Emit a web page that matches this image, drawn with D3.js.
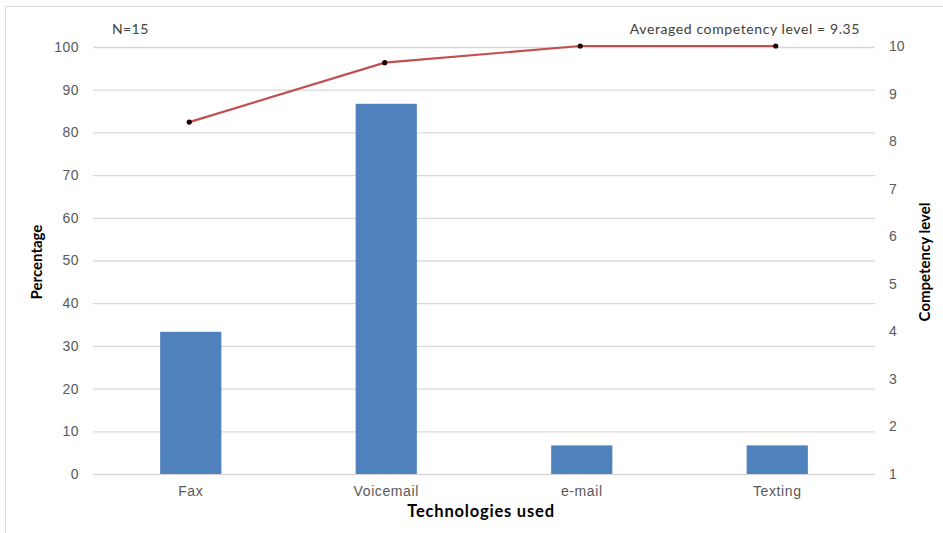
<!DOCTYPE html>
<html>
<head>
<meta charset="utf-8">
<script src="https://cdn.jsdelivr.net/npm/d3@7"></script>
<style>
  html, body { margin: 0; padding: 0; background: #fff; }
  svg { display: block; font-family: Lato, "Open Sans", sans-serif; }
</style>
</head>
<body>
<svg id="chart" width="943" height="533"></svg>
<script>
// Technologies used by respondents (N=15)
const categories = ["Fax", "Voicemail", "e-mail", "Texting"];
// Share of respondents using each technology (%)
const percentages = [33.3, 86.7, 6.7, 6.7];
// Average competency level per technology (1-10 scale)
const competency = [8.4, 9.65, 10, 10];
const leftTicks = [0, 10, 20, 30, 40, 50, 60, 70, 80, 90, 100];
const rightTicks = [1, 2, 3, 4, 5, 6, 7, 8, 9, 10];
const sampleNote = "N=15";
const averageNote = "Averaged competency level = 9.35";

const svg = d3.select("#chart");
const W = 943, H = 533;
const plot = { left: 93, right: 875, top: 47, bottom: 474 };

// outer chart frame (only top and left edges fall inside the view)
svg.append("path")
  .attr("d", `M5.5,${H} L5.5,6.5 L${W},6.5`)
  .attr("fill", "none")
  .attr("stroke", "#d9d9d9")
  .attr("stroke-width", 1);

const x = d3.scaleBand().domain(categories).range([plot.left, plot.right]).padding(0);
const yL = d3.scaleLinear().domain([0, 100]).range([plot.bottom, plot.top]);
const yR = d3.scaleLinear().domain([1, 10]).range([plot.bottom, plot.top - 1]);

const tickFont = 14;

// gridlines and left axis labels
const leftAxis = d3.axisLeft(yL).tickValues(leftTicks).tickSize(-(plot.right - plot.left)).tickPadding(14);
const gL = svg.append("g").attr("transform", `translate(${plot.left},0)`).call(leftAxis);
gL.select(".domain").remove();
gL.selectAll(".tick line").attr("stroke", "#d9d9d9").attr("stroke-width", 1.3);
gL.selectAll(".tick text").attr("fill", "#595959").attr("font-size", tickFont).attr("letter-spacing", 0.5);

// right axis labels
const rightAxis = d3.axisRight(yR).tickValues(rightTicks).tickSize(0).tickPadding(14);
const gR = svg.append("g").attr("transform", `translate(${plot.right},0)`).call(rightAxis);
gR.select(".domain").remove();
gR.selectAll(".tick text").attr("fill", "#595959").attr("font-size", tickFont);

// category axis labels
const bottomAxis = d3.axisBottom(x).tickSize(0).tickPadding(12);
const gB = svg.append("g").attr("transform", `translate(0,${plot.bottom})`).call(bottomAxis);
gB.select(".domain").remove();
gB.selectAll(".tick text").attr("fill", "#595959").attr("font-size", tickFont).attr("letter-spacing", 0.6);

// bars
const barW = x.bandwidth() * 0.313;
svg.append("g").selectAll("rect")
  .data(categories)
  .join("rect")
  .attr("x", d => x(d) + x.bandwidth() / 2 - barW / 2)
  .attr("width", barW)
  .attr("y", (d, i) => yL(percentages[i]))
  .attr("height", (d, i) => yL(0) - yL(percentages[i]))
  .attr("fill", "#4f81bd");

// competency line
const line = d3.line()
  .x(d => x(d.cat) + x.bandwidth() / 2 - 1.5)
  .y(d => yR(d.val));
const pts = categories.map((c, i) => ({ cat: c, val: competency[i] }));
svg.append("path")
  .datum(pts)
  .attr("d", line)
  .attr("fill", "none")
  .attr("stroke", "#c0504d")
  .attr("stroke-width", 2.2);
svg.append("g").selectAll("circle")
  .data(pts)
  .join("circle")
  .attr("cx", d => x(d.cat) + x.bandwidth() / 2 - 1.5)
  .attr("cy", d => yR(d.val))
  .attr("r", 2.6)
  .attr("fill", "#1a0000");

// annotations
svg.append("text").attr("x", 112).attr("y", 34)
  .attr("font-size", tickFont).attr("fill", "#404040").attr("letter-spacing", 0.4).text(sampleNote);
svg.append("text").attr("x", 860).attr("y", 34).attr("text-anchor", "end")
  .attr("font-size", tickFont).attr("fill", "#404040").attr("letter-spacing", 0.6).text(averageNote);

// axis titles
svg.append("text")
  .attr("transform", `translate(42,262) rotate(-90)`)
  .attr("text-anchor", "middle")
  .attr("font-size", 15).attr("font-weight", "bold").attr("fill", "#000")
  .text("Percentage");
svg.append("text")
  .attr("transform", `translate(930,262) rotate(-90)`)
  .attr("text-anchor", "middle")
  .attr("font-size", 15).attr("font-weight", "bold").attr("fill", "#000")
  .text("Competency level");
svg.append("text")
  .attr("x", 481).attr("y", 517)
  .attr("text-anchor", "middle")
  .attr("font-size", 16.5).attr("font-weight", "bold").attr("fill", "#000")
  .attr("letter-spacing", 0.8)
  .text("Technologies used");
</script>
</body>
</html>
